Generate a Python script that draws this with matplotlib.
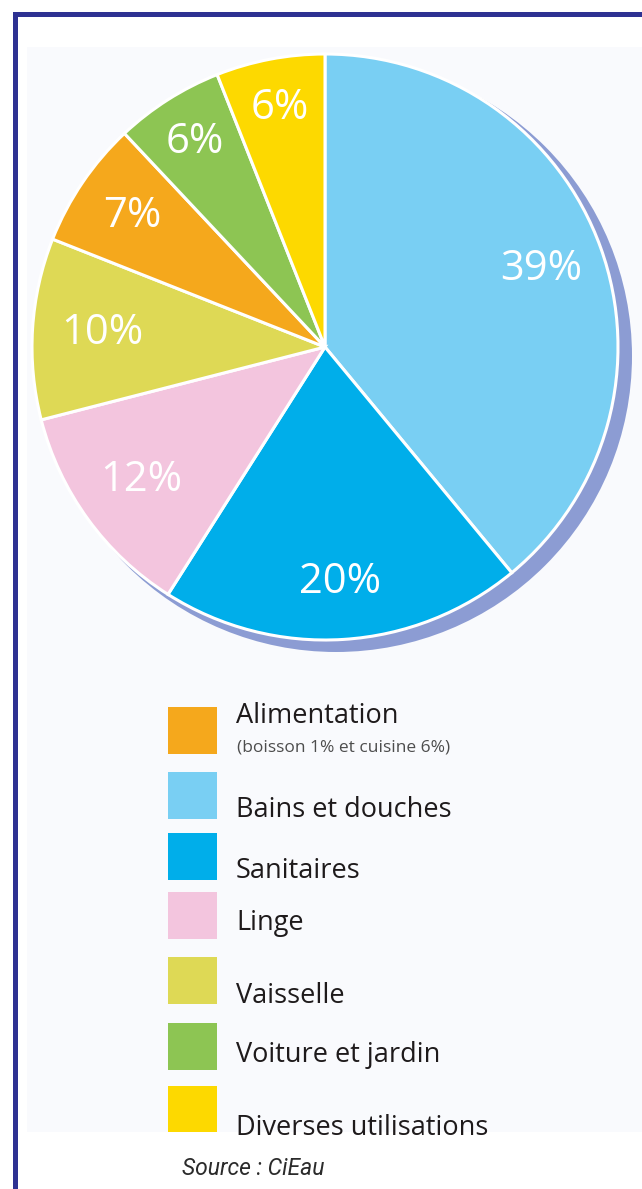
import numpy as np
import matplotlib
matplotlib.use('Agg')
import matplotlib.pyplot as plt
from matplotlib.patches import Rectangle, Circle

# Consommation d'eau domestique (répartition en %)
categories = ['Bains et douches', 'Sanitaires', 'Linge', 'Vaisselle',
              'Alimentation', 'Voiture et jardin', 'Diverses utilisations']
shares = [39, 20, 12, 10, 7, 6, 6]
colors = ['#79CFF3', '#00AEEA', '#F3C5DE', '#DED955',
          '#F5A81C', '#8DC553', '#FDD900']

legend_order = ['Alimentation', 'Bains et douches', 'Sanitaires', 'Linge',
                'Vaisselle', 'Voiture et jardin', 'Diverses utilisations']
note = '(boisson 1% et cuisine 6%)'
source = 'Source : CiEau'

W, H = 642, 1189


def Y(y):
    # coordonnées écran (haut = 0) -> coordonnées axes
    return H - y


fig = plt.figure(figsize=(W / 100, H / 100), dpi=100)
ax = fig.add_axes([0, 0, 1, 1])

# fond de la zone graphique
bg = Rectangle((27, Y(1132)), W - 27, 1132 - 47, fc='#F9FAFD', ec='none', zorder=0)
ax.add_patch(bg)

# cadre bleu
ax.add_patch(Rectangle((13, Y(H)), 5, H - 12, fc='#2E3192', ec='none', zorder=5))
ax.add_patch(Rectangle((13, Y(17)), W - 13, 5, fc='#2E3192', ec='none', zorder=5))

# camembert + ombre
cx, cy, R = 325, Y(347), 293
ax.add_patch(Circle((cx + 11, cy - 9), R + 3, fc='#8C9CD3', ec='none', zorder=1))
wedges, texts, autotexts = ax.pie(
    shares, colors=colors, startangle=90, counterclock=False,
    center=(cx, cy), radius=R,
    autopct=lambda p: f'{round(p):d}%', pctdistance=0.8,
    wedgeprops=dict(edgecolor='white', linewidth=2.2, zorder=2),
    textprops=dict(color='white', fontsize=30, family='Open Sans'))

label_r = [0.785, 0.805, 0.775, 0.76, 0.795, 0.83, 0.83]
for t, w, r in zip(autotexts, wedges, label_r):
    ang = np.deg2rad((w.theta1 + w.theta2) / 2)
    t.set_position((cx + r * R * np.cos(ang), cy + r * R * np.sin(ang)))
    t.set_zorder(3)

# légende
sq_top = [707, 772, 833, 892, 957, 1023, 1086]
txt_base = [723, 817, 878, 930, 1003, 1062, 1135]
for name, top, base in zip(legend_order, sq_top, txt_base):
    col = colors[categories.index(name)]
    sq = Rectangle((168, Y(top + 47)), 49, 47, fc=col, ec='none', zorder=2)
    ax.add_patch(sq)
    sq.set_clip_path(bg)
    t = ax.text(236, Y(base), name, fontsize=19.5, family='Open Sans',
                color='#1E1A1B', va='baseline', zorder=3)
    t.set_clip_path(bg)

ax.text(237, Y(752), note, fontsize=12.5, family='Open Sans',
        color='#4D4D4D', va='baseline', zorder=3)

ax.text(182, Y(1175), source, fontsize=16.5, style='italic',
        family=['Roboto', 'DejaVu Sans'],
        color='#2B2B2B', va='baseline')

ax.set_xlim(0, W)
ax.set_ylim(0, H)
ax.set_aspect('auto')
ax.axis('off')

fig.savefig('out.png', dpi=100, facecolor='white')
